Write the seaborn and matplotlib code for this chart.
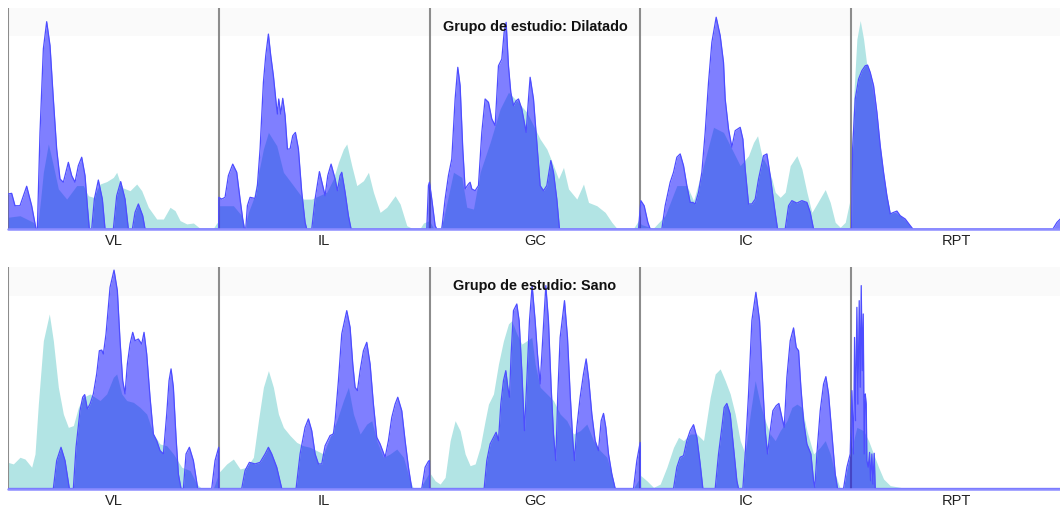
import matplotlib
matplotlib.use("Agg")
import matplotlib.pyplot as plt
from matplotlib import font_manager
import pandas as pd
import seaborn as sns

VARIABLES = ["VL", "IL", "GC", "IC", "RPT"]
GROUPS = ["Dilatado", "Sano"]

# Density profiles on the concatenated variable axis: each variable spans 100 units
# (VL 0-100, IL 100-200, GC 200-300, IC 300-400, RPT 400-500).
# Heights are relative densities, in percent of the panel maximum.

# --- Grupo de estudio: Dilatado -------------------------------------------
dil_ref_x = [0, 5.69, 12.02, 13.29, 14.08, 15.50, 16.77, 19.14, 21.51, 23.88, 27.84, 32.58, 35.75,
             38.12, 40.49, 43.65, 46.82, 49.98, 51.56, 53.94, 57.89, 61.05, 63.43, 66.59, 70.54,
             73.71, 76.87, 79.24, 81.62, 84.78, 87.94, 91.11, 97.43, 99.01, 99.9, 100.12, 106.92,
             110.87, 112.46, 114.04, 116.41, 121.16, 123.53, 127.49, 130.65, 135.39, 140.14, 144.09,
             151.21, 154.37, 156.75, 159.12, 160.70, 163.07, 165.45, 168.61, 170.98, 173.35, 176.52,
             179.68, 183.64, 186.01, 189.17, 192.34, 195.50, 197.08, 199.93, 201.83, 204.99, 206.57,
             211.32, 215.27, 217.64, 220.81, 223.97, 228.72, 233.46, 237.41, 241.37, 246.11, 249.28,
             252.44, 255.60, 258.77, 261.14, 263.51, 265.89, 269.84, 273.00, 275.38, 279.33, 283.29,
             286.45, 288.82, 296.73, 299.10, 300.5, 306.06, 311.75, 317.29, 322.03, 325.20, 329.94,
             334.69, 339.43, 342.60, 347.34, 351.30, 353.67, 355.57, 357.62, 360.00, 362.37, 363.95,
             366.33, 368.70, 371.07, 374.23, 376.60, 378.98, 381.35, 383.72, 387.68, 390.05, 392.42,
             394.79, 397.16, 399.53, 401.12, 402.70, 404.28, 405.86, 407.44, 409.03, 410.61, 412.19,
             413.77, 415.35, 416.94, 418.52, 420.89, 423.26, 426.43, 428.80, 500]
dil_ref_y = [5.3, 6.0, 3.0, 0.3, 1.5, 13.5, 25.6, 38.4, 28.6, 18.1, 13.5, 19.6, 19.6,
             15.0, 14.3, 20.3, 21.4, 23.3, 25.6, 18.8, 17.3, 20.3, 17.3, 9.8, 4.5,
             4.5, 9.8, 8.3, 3.8, 2.3, 2.7, 0.3, 0.3, 2.7, 3.0, 10.5, 10.5,
             6.0, 0.8, 7.5, 13.5, 36.1, 43.6, 37.6, 25.6, 19.6, 13.5, 13.5,
             16.6, 22.6, 30.1, 36.1, 38.4, 28.6, 19.6, 21.8, 25.6, 16.6, 7.5,
             9.8, 15.0, 11.3, 1.5, 0, 0.3, 2.7, 3.8, 0.3, 0.3, 4.5,
             25.6, 23.3, 9.8, 9.0, 25.6, 39.1, 54.2, 61.7, 57.9, 52.7, 46.7,
             40.6, 36.1, 28.6, 22.6, 27.8, 18.1, 13.5, 20.3, 12.0, 10.5, 7.5,
             3.0, 0.3, 0.3, 3.8, 2.0, 0.3, 6.0, 19.6, 19.6, 12.8, 28.6,
             45.9, 43.6, 37.6, 28.6, 33.1, 39.1, 42.1, 33.1, 28.6, 22.6, 16.6,
             14.3, 16.6, 28.6, 33.1, 27.1, 16.6, 7.5, 11.3, 17.8, 12.0, 3.0,
             0.8, 3.0, 13.5, 58.7, 85.8, 94.1, 85.8, 73.7, 69.2, 60.2, 48.2,
             36.1, 24.1, 15.0, 7.5, 7.5, 6.0, 3.0, 0, 0]

dil_study_x = [0, 1.74, 3.32, 5.69, 8.86, 11.23, 13.29, 13.92, 15.18, 16.77, 18.35, 19.93, 21.51,
               23.09, 24.67, 26.26, 27.84, 28.63, 30.21, 31.79, 33.37, 34.96, 36.54, 37.64, 38.59,
               39.70, 40.97, 42.86, 44.76, 46.03, 49.98, 51.56, 53.46, 55.52, 57.10, 59.00, 60.26,
               61.84, 63.90, 65.01, 99.9, 100.0, 101.39, 102.97, 104.55, 106.61, 108.50, 110.09,
               111.35, 112.14, 112.77, 113.56, 114.83, 117.20, 118.31, 119.58, 121.16, 122.27,
               123.53, 124.64, 125.90, 127.17, 127.80, 128.43, 129.38, 130.33, 131.44, 132.55,
               133.81, 135.08, 136.34, 137.77, 139.35, 140.93, 141.72, 144.09, 145.68, 147.73,
               149.31, 150.42, 151.69, 153.27, 155.17, 156.27, 157.54, 158.33, 159.91, 161.49,
               162.76, 198.66, 199.45, 199.93, 201.03, 202.62, 203.41, 205.78, 207.36, 208.94,
               210.52, 212.11, 213.37, 214.48, 215.74, 216.85, 218.43, 219.22, 220.01, 221.60,
               223.18, 224.76, 226.34, 227.92, 229.50, 231.09, 232.67, 234.25, 235.36, 236.31,
               237.41, 238.52, 239.79, 241.05, 242.16, 243.74, 245.80, 246.90, 247.69, 249.28,
               250.86, 252.44, 254.02, 255.60, 257.50, 258.77, 260.35, 261.61, 299.10, 300.21,
               301.79, 303.53, 304.64, 310.17, 311.75, 314.13, 315.71, 317.29, 318.87, 320.45,
               322.03, 323.62, 324.88, 325.99, 327.57, 329.15, 330.73, 332.32, 333.90, 335.95,
               337.85, 339.43, 340.22, 341.81, 343.39, 344.97, 347.34, 348.61, 349.71, 351.30,
               352.88, 354.46, 356.04, 358.41, 360.00, 361.58, 363.47, 365.06, 368.69, 370.28,
               371.86, 374.23, 376.60, 378.98, 380.56, 382.14, 400.17, 400.65, 401.91, 403.49,
               405.07, 406.66, 407.76, 409.03, 410.61, 412.19, 413.77, 415.35, 416.94, 418.52,
               420.10, 421.68, 423.26, 425.64, 428.01, 429.27, 495.70, 497.60, 499.18, 500]
dil_study_y = [15.8, 16.1, 10.5, 10.5, 19.3, 10.5, 0, 0, 43.6, 81.3, 93.6, 82.8, 58.7,
               36.1, 22.6, 21.1, 27.1, 30.1, 24.1, 21.1, 28.6, 32.4, 24.1, 10.5, 0,
               0, 13.5, 22.1, 13.5, 0, 0, 15.0, 21.4, 13.5, 0, 0, 7.5,
               11.3, 6.0, 0, 0, 14.3, 13.5, 14.3, 24.1, 29.3, 25.6, 13.5,
               4.5, 0, 0, 10.5, 14.3, 13.8, 19.6, 36.1, 66.2, 78.3,
               88.0, 78.3, 69.2, 57.2, 51.9, 58.7, 51.9, 59.0, 51.2, 36.1,
               36.1, 42.1, 43.6, 36.1, 16.6, 3.0, 0, 0, 13.5, 25.9,
               19.6, 15.0, 24.1, 29.3, 22.6, 17.3, 24.1, 25.6, 16.6, 6.0,
               0, 0, 19.6, 21.1, 13.5, 1.5, 0, 0, 13.5, 24.1,
               31.6, 58.7, 73.0, 64.7, 36.1, 18.1, 20.3, 21.1, 18.1, 17.3,
               19.6, 43.6, 58.7, 57.2, 49.7, 46.7, 73.7, 76.7, 88.8, 93.3,
               73.7, 61.7, 55.7, 57.9, 58.7, 54.2, 43.6, 58.7, 68.5, 58.7,
               39.1, 19.6, 17.3, 19.6, 30.9, 25.6, 13.5, 0, 0, 12.8,
               10.5, 3.0, 0, 0, 10.5, 21.1, 25.6, 32.4, 33.9, 28.6,
               19.6, 12.0, 12.0, 11.3, 16.6, 25.6, 43.6, 66.2, 84.3, 95.6,
               87.3, 75.2, 58.7, 45.1, 36.9, 44.4, 45.9, 40.6, 27.1, 11.3,
               11.3, 13.5, 22.6, 33.1, 33.9, 24.1, 10.5, 0, 0, 10.5,
               12.8, 11.7, 12.8, 12.0, 7.5, 0, 0, 36.1, 58.7, 67.7,
               71.5, 73.7, 74.0, 70.7, 64.7, 52.7, 37.6, 25.6, 15.0, 6.8,
               7.5, 8.1, 6.0, 4.5, 1.5, 0, 0, 3.0, 4.5, 5.5]

# --- Grupo de estudio: Sano -------------------------------------------------
sano_ref_x = [0, 2.53, 5.69, 8.07, 11.23, 12.81, 14.39, 16.77, 19.61, 21.51, 23.88, 26.26, 28.63,
              31.00, 33.37, 35.75, 38.91, 43.65, 46.82, 49.98, 51.56, 53.94, 56.31, 59.47, 62.64,
              65.80, 68.96, 72.13, 75.29, 78.45, 82.41, 86.36, 89.52, 91.90, 97.43, 100.12, 103.76,
              106.92, 110.09, 113.25, 116.41, 118.79, 121.16, 123.53, 125.90, 128.28, 130.65,
              133.81, 136.97, 140.14, 143.30, 146.47, 149.63, 152.79, 155.96, 159.12, 161.49,
              163.86, 167.03, 170.19, 172.56, 174.93, 178.10, 181.26, 184.43, 187.59, 190.75,
              192.34, 195.50, 199.93, 202.62, 204.99, 207.36, 209.74, 212.11, 214.48, 216.85,
              219.22, 221.60, 223.97, 226.34, 227.92, 230.30, 232.67, 235.04, 237.41, 238.99,
              241.37, 243.74, 246.11, 248.48, 250.07, 252.44, 255.60, 258.77, 261.93, 265.10,
              268.26, 271.42, 274.59, 277.75, 280.91, 284.08, 286.45, 288.03, 296.73, 300.21,
              303.06, 306.22, 309.39, 312.55, 315.71, 318.09, 320.45, 323.62, 326.78, 329.94,
              333.11, 335.48, 337.85, 340.22, 342.60, 344.97, 347.34, 349.71, 352.09, 354.46,
              356.83, 359.21, 361.58, 363.95, 366.33, 369.49, 371.86, 374.23, 376.60, 378.98,
              382.14, 385.30, 387.68, 390.05, 392.42, 394.79, 396.37, 399.54, 402.70, 405.86,
              408.24, 410.61, 412.98, 415.35, 418.52, 426.43, 500]
sano_ref_y = [11.8, 11.1, 14.1, 13.3, 9.6, 15.6, 38.1, 66.7, 78.8, 66.7, 45.7, 33.6, 27.6,
              28.4, 36.6, 41.2, 42.7, 39.7, 42.7, 50.2, 51.7, 42.7, 39.7, 38.9, 36.6,
              33.6, 24.6, 20.1, 19.3, 15.6, 9.6, 8.1, 2.0, 0, 0, 7.3, 11.1,
              13.3, 8.8, 9.6, 14.1, 30.6, 45.7, 53.2, 45.7, 33.6, 27.6,
              23.9, 20.8, 19.3, 18.6, 17.1, 15.6, 23.1, 30.6, 39.7, 45.7,
              33.6, 24.6, 29.1, 30.6, 21.6, 14.1, 15.6, 17.8, 14.1, 3.5,
              0, 0, 7.3, 3.5, 2.0, 5.0, 21.6, 30.6, 26.1, 15.6,
              10.3, 11.1, 18.6, 30.6, 38.1, 42.7, 56.2, 66.7, 74.3, 75.8,
              69.8, 65.2, 66.7, 68.2, 56.2, 45.7, 42.7, 39.7, 33.6, 30.6,
              24.6, 26.1, 29.1, 21.6, 17.1, 14.1, 6.5, 0, 0, 5.8,
              3.5, 0.5, 2.0, 9.6, 18.6, 23.1, 21.6, 24.6, 24.6, 21.6,
              41.2, 51.7, 54.0, 48.7, 42.7, 33.6, 21.6, 15.6, 33.6, 48.7,
              38.1, 30.6, 24.6, 21.6, 26.1, 30.6, 36.6, 38.1, 36.6, 26.1,
              15.6, 18.6, 21.6, 15.6, 6.5, 0, 0.5, 15.6, 27.6, 26.1,
              21.6, 15.6, 9.6, 4.3, 1.3, 0, 0]

sano_study_x = [0, 21.51, 23.09, 25.15, 27.05, 29.10, 31.00, 32.27, 34.16, 35.43, 36.38, 37.64,
                38.91, 40.49, 42.07, 43.34, 44.45, 45.24, 46.50, 48.40, 50.30, 51.88, 53.15, 54.41,
                55.52, 56.62, 57.89, 59.16, 60.26, 61.84, 63.43, 64.53, 65.80, 67.38, 68.96, 70.54,
                72.13, 73.71, 75.29, 76.40, 77.35, 78.45, 79.72, 80.83, 82.09, 83.20, 84.46, 86.04,
                87.94, 90.00, 96.64, 98.22, 99.96, 100.05, 110.87, 112.46, 114.52, 117.20, 119.58,
                121.95, 123.53, 125.11, 127.49, 129.86, 136.66, 138.56, 140.93, 142.51, 144.09,
                145.68, 147.26, 148.84, 150.42, 152.79, 154.37, 155.17, 156.75, 158.33, 160.70,
                162.28, 163.55, 164.65, 165.76, 167.03, 168.61, 170.19, 171.77, 173.35, 174.93,
                176.52, 178.89, 180.47, 182.05, 183.64, 184.90, 186.80, 188.38, 189.96, 191.54,
                196.29, 197.87, 199.45, 199.93, 200.05, 225.87, 227.13, 228.72, 230.30, 231.56,
                232.67, 233.78, 235.04, 236.15, 237.10, 237.89, 238.68, 239.79, 241.37, 242.47,
                243.74, 245.00, 246.11, 247.38, 248.64, 250.07, 251.17, 252.44, 253.70, 255.13,
                256.39, 257.66, 258.77, 259.87, 260.82, 261.93, 263.99, 265.41, 266.68, 267.94,
                268.73, 269.84, 271.42, 273.00, 274.27, 275.54, 276.96, 278.54, 280.12, 281.39,
                282.50, 283.60, 284.87, 286.45, 288.03, 296.73, 298.31, 299.89, 300.05, 315.71,
                317.29, 318.87, 320.45, 322.03, 323.62, 325.20, 326.78, 328.36, 329.63, 335.48,
                337.06, 338.64, 339.75, 341.01, 342.60, 344.18, 345.76, 346.55, 348.61, 349.71,
                351.30, 352.88, 354.78, 356.52, 358.10, 359.21, 360.31, 361.58, 362.84, 364.43,
                365.69, 367.12, 368.22, 369.49, 371.07, 372.65, 373.92, 375.03, 376.13, 377.40,
                378.98, 380.88, 382.14, 382.77, 383.72, 385.30, 386.89, 387.99, 389.26, 390.84,
                392.42, 393.53, 396.37, 397.96, 399.54, 400.33, 401.12, 401.59, 402.07, 402.70,
                403.17, 403.81, 404.28, 404.76, 405.23, 405.71, 406.18, 406.66, 407.13, 407.44,
                408.08, 408.71, 409.18, 409.81, 410.29, 410.92, 411.39, 500]
sano_study_y = [0, 0, 12.6, 18.6, 12.6, 0, 0, 18.6, 35.1, 41.2, 42.4, 35.9,
                38.1, 42.7, 51.7, 62.2, 62.5, 60.7, 69.8, 90.8, 98.6, 89.3, 66.7, 48.7,
                42.7, 56.2, 65.2, 70.5, 66.7, 67.5, 65.2, 70.5, 60.7, 41.2, 24.6, 21.6,
                17.1, 15.6, 33.6, 48.7, 54.0, 45.7, 23.1, 6.5, 0, 0, 15.6, 18.6,
                12.6, 0, 0, 12.6, 18.6, 0, 0, 8.1, 11.8, 11.1, 11.8,
                15.6, 18.6, 15.6, 9.6, 0, 0, 15.6, 27.6, 31.4, 26.1,
                15.6, 11.1, 11.1, 19.3, 23.9, 24.6, 30.6, 48.7, 69.8, 80.3,
                72.8, 56.2, 45.7, 44.2, 53.2, 62.2, 66.0, 56.2, 38.1, 23.1,
                20.1, 14.1, 21.6, 32.1, 38.1, 41.2, 35.1, 21.6, 9.6, 0,
                0, 9.6, 12.3, 12.6, 0, 0, 12.6, 20.1, 23.1, 25.4,
                21.6, 38.1, 48.7, 53.2, 45.7, 41.2, 60.7, 80.3, 83.3, 75.8,
                53.2, 26.1, 48.7, 75.8, 91.6, 75.8, 60.7, 47.2, 68.2, 91.6,
                75.8, 45.7, 24.6, 12.6, 42.7, 68.2, 84.8, 68.2, 42.7, 21.6,
                12.6, 27.6, 41.2, 51.7, 58.5, 48.7, 33.6, 21.6, 17.1, 30.6,
                33.9, 27.6, 15.6, 6.5, 0, 0, 12.6, 20.8, 0, 0,
                9.6, 14.1, 14.8, 21.6, 26.1, 28.8, 23.1, 11.1, 0, 0,
                15.6, 27.6, 36.6, 38.4, 33.6, 18.6, 3.5, 0, 0, 15.6,
                42.7, 75.8, 88.6, 75.8, 45.7, 26.1, 15.6, 26.1, 35.1, 37.4,
                38.4, 32.1, 27.6, 50.2, 66.7, 72.5, 63.7, 62.2, 45.7, 30.6,
                20.1, 15.6, 3.5, 0.5, 15.6, 35.1, 47.2, 50.5, 42.7, 24.6,
                6.5, 0, 0, 9.6, 15.6, 44.2, 15.6, 68.2, 30.6, 81.8,
                38.1, 84.8, 45.7, 91.6, 53.2, 78.8, 15.6, 42.7, 38.1, 12.6,
                9.6, 16.3, 3.5, 15.6, 2.0, 15.9, 0, 0]

REF_X = [dil_ref_x, sano_ref_x]
REF_Y = [dil_ref_y, sano_ref_y]
STUDY_X = [dil_study_x, sano_study_x]
STUDY_Y = [dil_study_y, sano_study_y]

REF_COLOR = "#b2e4e4"
STUDY_FILL = (0.0, 0.0, 1.0, 0.5)
STUDY_EDGE = (0.3, 0.3, 1.0)
SEP_COLOR = "#8c8c8c"
STRIP_COLOR = "#fafafa"

sns.set_theme(style="white")
available = {f.name for f in font_manager.fontManager.ttflist}
base_font = "Liberation Sans" if "Liberation Sans" in available else "DejaVu Sans"
title_font = "Liberation Sans Narrow" if "Liberation Sans Narrow" in available else base_font
title_size = 12.8 if title_font == "Liberation Sans Narrow" else 10.4
plt.rcParams["font.family"] = [base_font, "DejaVu Sans"]

W, H = 1060, 510
fig = plt.figure(figsize=(W / 100, H / 100), dpi=100)
fig.patch.set_facecolor("white")

# panel rectangles in figure fractions (left, bottom, width, height)
rects = [(8 / W, 280 / H, 1054 / W, 221.5 / H),
         (8 / W, 20.5 / H, 1054 / W, 221.5 / H)]

for i, group in enumerate(GROUPS):
    ax = fig.add_axes(rects[i])
    ax.set_facecolor("white")
    ax.axhspan(87, 100, color=STRIP_COLOR, lw=0, zorder=0)

    ref = pd.DataFrame({"pos": REF_X[i], "dens": REF_Y[i]})
    study = pd.DataFrame({"pos": STUDY_X[i], "dens": STUDY_Y[i]})

    ax.fill_between(ref["pos"], ref["dens"], 0, color=REF_COLOR, lw=0, zorder=1)
    for k in range(len(VARIABLES)):
        ax.axvline(100 * k, color=SEP_COLOR, lw=1.5, zorder=2)
    ax.fill_between(study["pos"], study["dens"], 0, color=STUDY_FILL, lw=0, zorder=3)
    sns.lineplot(data=study, x="pos", y="dens", ax=ax, color=STUDY_EDGE, lw=0.9,
                 estimator=None, sort=False, zorder=4)
    ax.axhline(0, color=(0.55, 0.55, 1.0), lw=1.8, zorder=4, clip_on=False)

    ax.set_xlim(0, 500)
    ax.set_ylim(0, 100)
    ax.set_xticks([100 * k + 50 for k in range(len(VARIABLES))])
    ax.set_xticklabels(VARIABLES, fontsize=10.5, color="#222222")
    ax.tick_params(axis="x", length=0, pad=3)
    ax.set_yticks([])
    ax.set_xlabel("")
    ax.set_ylabel("")
    for s in ax.spines.values():
        s.set_visible(False)

    ax.text(0.5, 0.918, f"Grupo de estudio: {group}", transform=ax.transAxes,
            ha="center", va="center", fontsize=title_size, fontweight="bold",
            family=[title_font, "DejaVu Sans"], color="#111111", zorder=6)

fig.savefig("out.png", dpi=100)
